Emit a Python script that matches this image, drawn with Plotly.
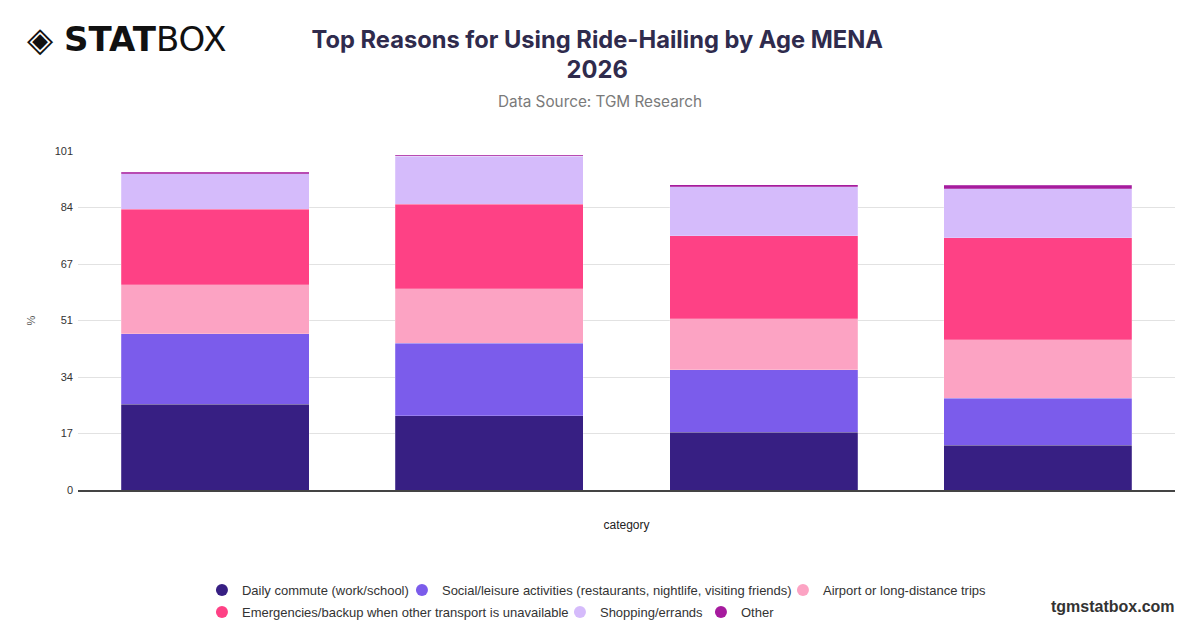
import plotly.graph_objects as go

categories = ["18-24", "25-34", "35-44", "45+"]

series_names = [
    "Daily commute (work/school)",
    "Social/leisure activities (restaurants, nightlife, visiting friends)",
    "Airport or long-distance trips",
    "Emergencies/backup when other transport is unavailable",
    "Shopping/errands",
    "Other",
]
series_colors = ["#371F83", "#7B5CEB", "#FCA3C3", "#FE4185", "#D5BBFB", "#A61B9E"]
# tighter legend entries than plotly's default spacing
legend_widths = [155, 336, None, 313, 96, None]

daily_commute = [25.6, 22.1, 17.2, 13.4]
social_leisure = [20.9, 21.6, 18.6, 14.0]
airport_trips = [14.6, 16.3, 15.2, 17.4]
emergencies = [22.5, 25.1, 24.8, 30.3]
shopping = [10.6, 14.3, 14.6, 14.7]
other = [0.5, 0.4, 0.6, 1.0]

series_values = [daily_commute, social_leisure, airport_trips, emergencies, shopping, other]

y_max = 101
tick_vals = [i * y_max / 6 for i in range(7)]
tick_text = [str(int(v + 0.5)) for v in tick_vals]

fig = go.Figure()

for name, color, vals in zip(series_names, series_colors, series_values):
    fig.add_trace(go.Bar(
        x=categories, y=vals, name=name,
        marker=dict(color=color, line=dict(color="rgba(255,255,255,0.35)", width=0.6)),
        showlegend=False,
    ))

# legend entries drawn as circles, split over two rows
for i, (name, color, lw) in enumerate(zip(series_names, series_colors, legend_widths)):
    fig.add_trace(go.Scatter(
        x=[None], y=[None], mode="markers", name=name,
        marker=dict(symbol="circle", size=14, color=color),
        legend="legend" if i < 3 else "legend2",
        legendwidth=lw,
    ))

legend_style = dict(
    orientation="h", xanchor="left", yanchor="middle", traceorder="normal",
    yref="container",
    font=dict(family="Liberation Sans, Arial, sans-serif", size=13, color="#333333"),
    itemsizing="constant", bgcolor="rgba(0,0,0,0)", tracegroupgap=0,
)

# the page body adds an 8px offset, so margins are set a little tighter
fig.update_layout(
    width=1200, height=628,
    barmode="stack",
    bargap=0.314,
    plot_bgcolor="white",
    paper_bgcolor="white",
    margin=dict(l=70, r=33, t=143, b=146),
    title=dict(
        text="Top Reasons for Using Ride-Hailing by Age MENA<br>2026",
        x=0.491, xanchor="center", y=0.937, yanchor="top",
        font=dict(family="Inter, sans-serif", size=23.7, color="#2F2B4D", weight="bold"),
    ),
    xaxis=dict(
        showticklabels=False, showgrid=False, automargin=False,
        title=dict(text="category", standoff=30,
                   font=dict(family="Liberation Sans, Arial, sans-serif", size=12, color="#222222")),
        linecolor="#444444", linewidth=1.5, showline=True,
    ),
    yaxis=dict(
        range=[0, y_max], tickvals=tick_vals, ticktext=tick_text,
        gridcolor="#E2E2E2", gridwidth=1, zeroline=False, automargin=False,
        tickfont=dict(family="Liberation Sans, Arial, sans-serif", size=11, color="#333333"),
        ticklabelstandoff=4,
        title=dict(text="%", standoff=16,
                   font=dict(family="Liberation Sans, Arial, sans-serif", size=11, color="#555555")),
    ),
    legend=dict(x=0.113, y=0.0732, **legend_style),
    legend2=dict(x=0.113, y=0.0382, **legend_style),
)

fig.add_annotation(
    text="Data Source: TGM Research", xref="paper", yref="paper",
    x=0.476, y=1.147, xanchor="center", yanchor="middle", showarrow=False,
    font=dict(family="Inter, sans-serif", size=15.3, color="#7A7A7A"),
)

fig.add_annotation(
    text="◈ <b>STAT</b>BOX", xref="paper", yref="paper",
    x=-0.048, y=1.33, xanchor="left", yanchor="middle", showarrow=False,
    font=dict(family="DejaVu Sans, sans-serif", size=34, color="#111111"),
)

fig.add_annotation(
    text="<b>tgmstatbox.com</b>", xref="paper", yref="paper",
    x=1.002, y=-0.345, xanchor="right", yanchor="middle", showarrow=False,
    font=dict(family="Liberation Sans, Arial, sans-serif", size=16, color="#333333"),
)

fig.write_html("out.html")
